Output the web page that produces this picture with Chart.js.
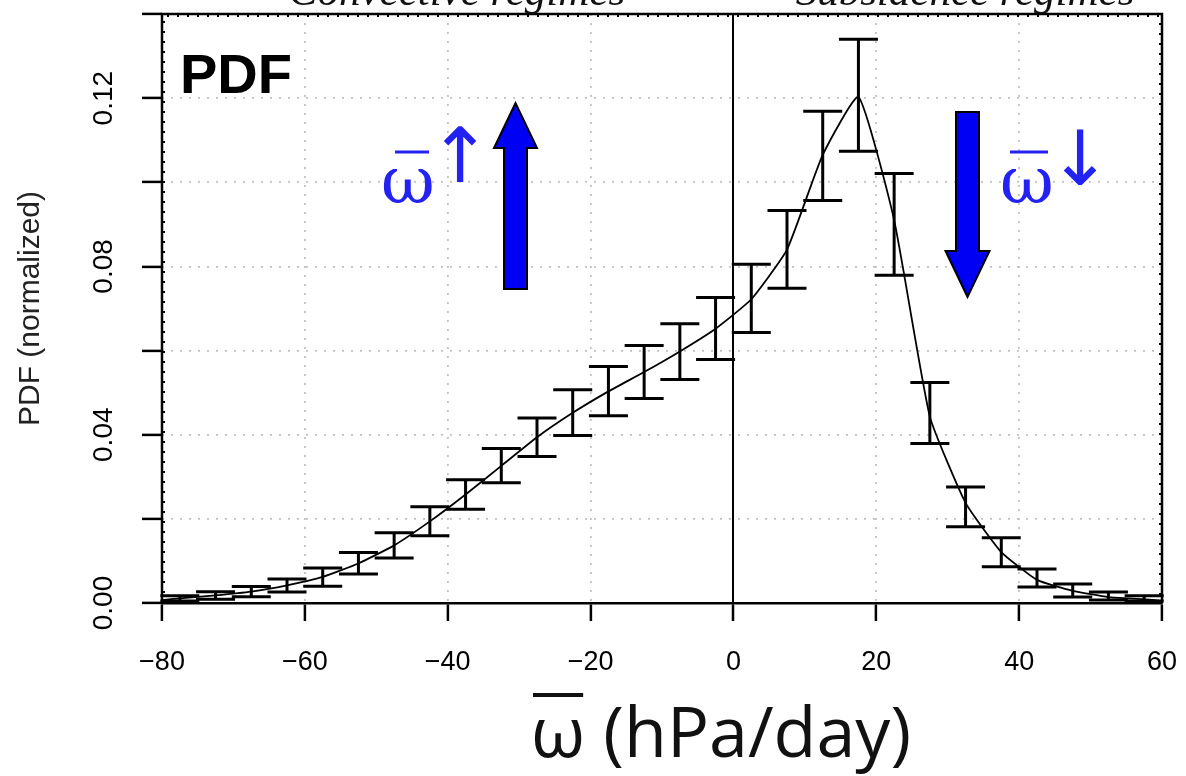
<!DOCTYPE html>
<html><head><meta charset="utf-8">
<script src="https://cdn.jsdelivr.net/npm/chart.js@4.4.0/dist/chart.umd.min.js"></script>
<style>html,body{margin:0;padding:0;background:#fff;}#wrap{width:1186px;height:776px;position:relative;}</style>
</head><body><div id="wrap"><canvas id="c" width="1186" height="776"></canvas></div>
<script>
// ---- data ----
const omegaBins = [-77.5,-72.5,-67.5,-62.5,-57.5,-52.5,-47.5,-42.5,-37.5,-32.5,-27.5,-22.5,-17.5,-12.5,-7.5,-2.5,2.5,7.5,12.5,17.5,22.5,27.5,32.5,37.5,42.5,47.5,52.5,57.5];
const pdfMean = [0.0011,0.0018,0.0027,0.0042,0.0062,0.0094,0.0137,0.0194,0.0258,0.0326,0.0394,0.0452,0.0503,0.0549,0.0598,0.0652,0.0722,0.0840,0.1065,0.1203,0.0910,0.0443,0.0238,0.0121,0.0055,0.0029,0.0014,0.0009];
const pdfLow  = [0.0005,0.0009,0.0015,0.0026,0.0040,0.0069,0.0107,0.0160,0.0223,0.0286,0.0348,0.0398,0.0445,0.0486,0.0531,0.0579,0.0643,0.0748,0.0957,0.1074,0.0779,0.0379,0.0181,0.0086,0.0038,0.0014,0.0007,0.0005];
const pdfHigh = [0.0017,0.0027,0.0039,0.0057,0.0083,0.0120,0.0167,0.0229,0.0293,0.0367,0.0440,0.0507,0.0562,0.0612,0.0664,0.0726,0.0805,0.0933,0.1169,0.1340,0.1021,0.0524,0.0276,0.0155,0.0081,0.0045,0.0026,0.0017];
const curveEdgeX = [-80, 60];
const curveEdgeY = [0.0007, 0.0005];
const xTickValues = [-80,-60,-40,-20,0,20,40,60];
const yTickLabels = [0.00, 0.04, 0.08, 0.12];
const regimeLabels = ['Convective regimes', 'Subsidence regimes'];
const xTitle = 'ω (hPa/day)';
const yTitle = 'PDF (normalized)';

// ---- build datasets ----
const curvePts = [{x: curveEdgeX[0], y: curveEdgeY[0]}]
  .concat(omegaBins.map((x, i) => ({x, y: pdfMean[i]})))
  .concat([{x: curveEdgeX[1], y: curveEdgeY[1]}]);
const barPts = omegaBins.map((x, i) => ({x, y: pdfMean[i], lo: pdfLow[i], hi: pdfHigh[i]}));

const errorBars = {
  id: 'errorBars',
  afterDatasetsDraw(chart) {
    const {ctx, scales: {x, y}} = chart;
    const meta = chart.getDatasetMeta(1);
    ctx.save();
    ctx.strokeStyle = '#000';
    ctx.lineWidth = 3;
    ctx.lineCap = 'butt';
    const hw = 19.5;
    meta.data.forEach((el, i) => {
      const p = barPts[i];
      const px = x.getPixelForValue(p.x);
      const yl = y.getPixelForValue(p.lo), yh = y.getPixelForValue(p.hi);
      ctx.beginPath();
      ctx.moveTo(px, yl); ctx.lineTo(px, yh);
      ctx.moveTo(px - hw, yl); ctx.lineTo(px + hw, yl);
      ctx.moveTo(px - hw, yh); ctx.lineTo(px + hw, yh);
      ctx.stroke();
    });
    ctx.restore();
  }
};

function blockArrow(ctx, cx, yTail, yHeadBase, yTip, shaftHalf, headHalf) {
  ctx.beginPath();
  ctx.moveTo(cx - shaftHalf, yTail);
  ctx.lineTo(cx - shaftHalf, yHeadBase);
  ctx.lineTo(cx - headHalf, yHeadBase);
  ctx.lineTo(cx, yTip);
  ctx.lineTo(cx + headHalf, yHeadBase);
  ctx.lineTo(cx + shaftHalf, yHeadBase);
  ctx.lineTo(cx + shaftHalf, yTail);
  ctx.closePath();
  ctx.fillStyle = '#0000f5';
  ctx.fill();
  ctx.strokeStyle = '#000';
  ctx.lineWidth = 2;
  ctx.lineJoin = 'miter';
  ctx.stroke();
}

const decor = {
  id: 'decor',
  afterDraw(chart) {
    const {ctx, chartArea: a, scales: {x, y}} = chart;
    ctx.save();
    // frame (top, left, right)
    ctx.strokeStyle = '#000';
    ctx.lineWidth = 2.5;
    ctx.beginPath();
    ctx.moveTo(a.left, a.bottom); ctx.lineTo(a.left, a.top);
    ctx.lineTo(a.right, a.top); ctx.lineTo(a.right, a.bottom);
    ctx.stroke();
    ctx.setLineDash([2, 8]);
    ctx.lineWidth = 2;
    ctx.beginPath();
    ctx.moveTo(a.left + 2, a.bottom); ctx.lineTo(a.left + 2, a.top + 2);
    ctx.lineTo(a.right - 2, a.top + 2); ctx.lineTo(a.right - 2, a.bottom);
    ctx.stroke();
    ctx.setLineDash([]);

    // y tick labels (rotated)
    ctx.fillStyle = '#000';
    ctx.font = '28px "Liberation Sans", Arial, sans-serif';
    ctx.textAlign = 'center';
    ctx.textBaseline = 'middle';
    yTickLabels.forEach(v => {
      const py = y.getPixelForValue(v);
      ctx.save();
      ctx.translate(104, py);
      ctx.rotate(-Math.PI / 2);
      ctx.fillText(v.toFixed(2), 0, 0);
      ctx.restore();
    });

    // regime headers (clipped at top)
    ctx.font = 'italic 43px "Liberation Serif", "DejaVu Serif", serif';
    ctx.textBaseline = 'alphabetic';
    ctx.fillStyle = '#111';
    ctx.fillText(regimeLabels[0], 457, 5);
    ctx.fillText(regimeLabels[1], 965, 5);

    // PDF label
    ctx.font = 'bold 56px "Liberation Sans", Arial, sans-serif';
    ctx.textAlign = 'left';
    ctx.fillStyle = '#000';
    ctx.fillText('PDF', 180, 93);

    // block arrows
    blockArrow(ctx, 515.5, 289, 148, 103, 11.5, 21.5);
    blockArrow(ctx, 967.5, 112, 251, 297, 11.5, 22);

    // omega annotations
    ctx.fillStyle = '#2222f2';
    ctx.strokeStyle = '#2222f2';
    ctx.font = '66px "DejaVu Serif", serif';
    ctx.textAlign = 'left';
    ctx.fillText('ω', 381, 203);
    ctx.fillText('ω', 1000, 203);
    ctx.lineWidth = 3;
    ctx.beginPath();
    ctx.moveTo(395, 152); ctx.lineTo(429, 152);
    ctx.moveTo(1010, 152); ctx.lineTo(1048, 152);
    ctx.stroke();
    ctx.font = '76px "DejaVu Sans", sans-serif';
    ctx.textAlign = 'center';
    ctx.fillText('↑', 460, 182);
    ctx.fillText('↓', 1080, 185);

    // x-axis title with overline on omega
    ctx.fillStyle = '#111';
    ctx.font = '70px "Open Sans", sans-serif';
    ctx.textAlign = 'left';
    const w = ctx.measureText(xTitle).width;
    const x0 = 721 - w / 2;
    ctx.fillText(xTitle, x0, 757);
    const ow = ctx.measureText('ω').width;
    ctx.fillRect(x0 + 2, 693, ow - 4, 4);
    ctx.restore();
  }
};

const minus = v => (v < 0 ? '\u2212' + Math.abs(v) : String(v));

new Chart(document.getElementById('c'), {
  type: 'line',
  data: {
    datasets: [
      {label: 'PDF', data: curvePts, borderColor: '#000', borderWidth: 1.8, pointRadius: 0, tension: 0.15, fill: false},
      {label: 'bins', data: barPts, showLine: false, pointRadius: 0, borderColor: '#000'}
    ]
  },
  options: {
    responsive: false,
    animation: false,
    events: [],
    layout: {padding: {top: 14, right: 24, left: 0, bottom: 0}},
    plugins: {legend: {display: false}, tooltip: {enabled: false}, title: {display: false}},
    scales: {
      x: {
        type: 'linear', min: -80, max: 60,
        afterBuildTicks: s => { s.ticks = xTickValues.map(v => ({value: v})); },
        afterFit: s => { s.height = 173; },
        ticks: {callback: v => minus(v), color: '#000', font: {family: '"Liberation Sans", Arial, sans-serif', size: 27, lineHeight: 2.96}, padding: 2, maxRotation: 0},
        grid: {
          color: c => (c.tick && c.tick.value === 0 ? '#000' : (c.tick && (c.tick.value === -80 || c.tick.value === 60) ? 'rgba(0,0,0,0)' : '#c2c2c2')),
          lineWidth: c => (c.tick && c.tick.value === 0 ? 2 : 1.8),
          tickColor: '#000', tickLength: 18, tickWidth: 2.5
        },
        border: {display: true, color: '#000', width: 2.5, dash: c => (c.tick && c.tick.value === 0 ? [] : [2, 7])}
      },
      y: {
        min: 0, max: 0.14,
        ticks: {stepSize: 0.02, display: false},
        afterFit: s => { s.width = 162; },
        title: {display: true, text: yTitle, color: '#222', font: {family: '"Liberation Sans", Arial, sans-serif', size: 30}, padding: {top: 13, bottom: 0}},
        grid: {
          color: c => (c.tick && (Math.abs(c.tick.value) < 1e-9 || Math.abs(c.tick.value - 0.14) < 1e-9) ? 'rgba(0,0,0,0)' : '#c2c2c2'),
          lineWidth: 1.8,
          tickColor: '#000', tickLength: 20, tickWidth: 2.5
        },
        border: {display: false, dash: [2, 7]}
      }
    }
  },
  plugins: [errorBars, decor]
});
</script></body></html>
